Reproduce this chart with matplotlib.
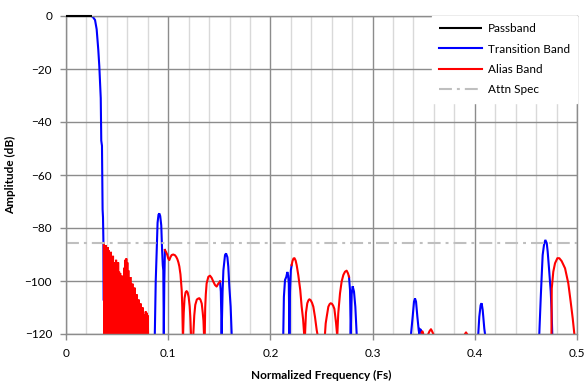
import numpy as np
import matplotlib
matplotlib.use("Agg")
import matplotlib.pyplot as plt
from matplotlib.ticker import MultipleLocator

nan = np.nan

# ---- data ----
passband_f = [0.0, 0.0250]
passband_db = [0.0, 0.0]

transition_f = [
    0.0250, 0.0265, 0.0284, 0.0300, 0.0316, 0.0326, 0.0340, 0.0345, 0.0352, 0.0358, 0.0362, 0.0366, 0.0368, nan,
    0.0869, 0.0878, 0.0888, 0.0896, 0.0905, 0.0913, 0.0922, 0.0932, 0.0940, 0.0947, 0.0952, 0.0957, 0.0962, 0.0968, nan,
    0.1507, 0.1515, 0.1523, 0.1532, 0.1540, 0.1556, 0.1566, 0.1579, 0.1588, 0.1598, 0.1611, 0.1621, nan,
    0.2126, 0.2132, 0.2143, 0.2155, 0.2166, 0.2174, 0.2180, 0.2186, 0.2192, 0.2200, 0.2208, nan,
    0.2769, 0.2779, 0.2786, 0.2795, 0.2805, 0.2818, 0.2831, 0.2844, nan,
    0.3376, 0.3392, 0.3405, 0.3415, 0.3425, 0.3438, 0.3451, 0.3457, 0.3464, 0.3472, 0.3480, nan,
    0.4034, 0.4044, 0.4057, 0.4067, 0.4077, 0.4083, 0.4093, 0.4100, nan,
    0.4631, 0.4645, 0.4655, 0.4664, 0.4677, 0.4690, 0.4704, 0.4713, 0.4726, 0.4743, 0.4752, 0.4758,
]
transition_db = [
    0.0, -0.5, -1.5, -5.0, -12.8, -19.0, -31.0, -47.0, -49.0, -73.0, -76.0, -85.0, -107.0, nan,
    -120.0, -100.0, -88.0, -78.0, -75.0, -74.5, -75.5, -79.0, -88.0, -94.0, -96.0, -120.0, -100.0, -88.3, nan,
    -100.2, -104.0, -120.0, -104.0, -96.0, -90.2, -89.6, -91.0, -94.6, -102.0, -109.7, -120.0, nan,
    -120.0, -106.0, -99.6, -98.5, -96.6, -98.0, -101.0, -120.0, -104.0, -96.0, -94.0, nan,
    -98.4, -103.4, -120.0, -105.0, -102.0, -104.0, -109.7, -120.0, nan,
    -120.0, -113.5, -107.8, -106.6, -107.8, -113.5, -118.5, -120.0, -118.2, -118.4, -119.5, nan,
    -120.0, -113.5, -109.1, -108.4, -110.9, -113.5, -118.0, -120.0, nan,
    -120.0, -106.5, -97.7, -90.2, -86.4, -84.5, -85.7, -88.9, -95.2, -104.0, -112.0, -120.0,
]

alias_noise_f = [
    0.0370, 0.0375, 0.0380, 0.0385, 0.0390, 0.0395, 0.0400, 0.0405, 0.0410, 0.0415,
    0.0420, 0.0425, 0.0430, 0.0435, 0.0440, 0.0445, 0.0450, 0.0455, 0.0460, 0.0465,
    0.0470, 0.0475, 0.0480, 0.0485, 0.0490, 0.0495, 0.0500, 0.0505, 0.0510, 0.0515,
    0.0520, 0.0525, 0.0530, 0.0535, 0.0540, 0.0545, 0.0550, 0.0555, 0.0560, 0.0565,
    0.0570, 0.0575, 0.0580, 0.0585, 0.0590, 0.0595, 0.0600, 0.0605, 0.0610, 0.0615,
    0.0620, 0.0625, 0.0630, 0.0635, 0.0640, 0.0645, 0.0650, 0.0655, 0.0660, 0.0665,
    0.0670, 0.0675, 0.0680, 0.0685, 0.0690, 0.0695, 0.0700, 0.0705, 0.0710, 0.0715,
    0.0720, 0.0725, 0.0730, 0.0735, 0.0740, 0.0745, 0.0750, 0.0755, 0.0760, 0.0765,
    0.0770, 0.0775, 0.0780, 0.0785, 0.0790, 0.0795, 0.0800, 0.0805,
]
alias_noise_db = [
    -85.7, -125, -87.0, -125, -86.5, -125, -88.0, -125, -87.3, -125,
    -88.5, -125, -90.0, -125, -89.0, -125, -92.0, -125, -90.5, -125,
    -94.0, -125, -93.0, -125, -92.0, -125, -94.5, -125, -93.0, -125,
    -96.5, -125, -97.0, -125, -99.5, -125, -98.0, -125, -100.0, -125,
    -95.0, -125, -92.0, -125, -91.5, -125, -93.0, -125, -96.0, -125,
    -100.0, -125, -98.5, -125, -103.0, -125, -101.0, -125, -104.5, -125,
    -102.5, -125, -106.5, -125, -105.0, -125, -108.0, -125, -107.0, -125,
    -109.5, -125, -108.5, -125, -111.0, -125, -110.0, -125, -112.5, -125,
    -114.0, -125, -111.5, -125, -112.0, -125, -113.0, -125,
]

alias_f = [
    0.0968, 0.0978, 0.0990, 0.1000, 0.1011, 0.1022, 0.1034, 0.1050, 0.1067, 0.1080, 0.1090, 0.1100, 0.1109, 0.1120, 0.1132, 0.1138, 0.1143, nan,
    0.1146, 0.1152, 0.1160, 0.1170, 0.1180, 0.1190, 0.1200, 0.1210, 0.1217, 0.1223, nan,
    0.1246, 0.1255, 0.1265, 0.1280, 0.1295, 0.1305, 0.1315, 0.1328, 0.1338, 0.1345, 0.1350, nan,
    0.1358, 0.1362, 0.1368, 0.1376, 0.1393, 0.1409, 0.1425, 0.1441, 0.1458, 0.1474, 0.1490, 0.1507, nan,
    0.2208, 0.2216, 0.2226, 0.2236, 0.2247, 0.2257, 0.2273, 0.2292, 0.2306, 0.2320, 0.2330, nan,
    0.2339, 0.2348, 0.2361, 0.2372, 0.2381, 0.2393, 0.2407, 0.2420, 0.2436, 0.2453, 0.2460, nan,
    0.2534, 0.2541, 0.2551, 0.2567, 0.2580, 0.2590, 0.2602, 0.2614, 0.2626, 0.2642, 0.2652, nan,
    0.2655, 0.2664, 0.2681, 0.2697, 0.2714, 0.2730, 0.2746, 0.2759, 0.2769, nan,
    0.3480, 0.3488, 0.3496, nan,
    0.3545, 0.3556, 0.3565, 0.3571, 0.3580, 0.3594, nan,
    0.3904, 0.3914, 0.3924, nan,
    0.4750, 0.4753, 0.4768, 0.4785, 0.4808, 0.4827, 0.4850, 0.4883, 0.4915, 0.4938, 0.4958, 0.4974,
]
alias_db = [
    -88.3, -89.0, -90.0, -91.5, -92.1, -91.0, -90.2, -90.0, -90.3, -91.0, -91.8, -93.0, -94.5, -97.5, -103.4, -110.0, -120.0, nan,
    -120.0, -112.0, -106.5, -104.3, -103.8, -104.3, -106.0, -109.5, -114.0, -120.0, nan,
    -120.0, -113.0, -109.0, -107.0, -106.6, -106.5, -107.0, -108.5, -112.0, -115.0, -120.0, nan,
    -120.0, -110.0, -105.0, -100.9, -98.4, -98.0, -98.8, -100.2, -101.5, -102.1, -101.0, -100.2, nan,
    -94.0, -92.5, -91.5, -91.4, -92.3, -94.0, -97.8, -103.4, -109.7, -114.5, -120.0, nan,
    -120.0, -112.0, -108.4, -107.3, -106.9, -107.2, -108.2, -109.7, -113.5, -118.5, -120.0, nan,
    -120.0, -116.0, -113.5, -109.7, -108.7, -108.4, -108.6, -109.3, -110.5, -115.7, -120.0, nan,
    -120.0, -112.2, -104.7, -100.2, -97.7, -96.5, -96.1, -97.1, -98.4, nan,
    -119.5, -119.0, -120.0, nan,
    -120.0, -119.0, -118.5, -118.2, -118.8, -120.0, nan,
    -120.0, -119.4, -120.0, nan,
    -120.0, -102.8, -96.5, -93.3, -91.4, -91.4, -92.5, -95.2, -100.9, -107.8, -114.1, -120.0,
]

attn_spec_db = -85.6

x_ticks = [0, 0.1, 0.2, 0.3, 0.4, 0.5]
x_ticklabels = ["0", "0.1", "0.2", "0.3", "0.4", "0.5"]
y_ticks = [0, -20, -40, -60, -80, -100, -120]

# ---- style ----
plt.rcParams['font.family'] = ['Lato', 'DejaVu Sans']
major_grid = '#8C8C8C'
minor_grid = '#D9D9D9'

fig = plt.figure(figsize=(5.87, 3.87), dpi=100)
ax = fig.add_axes([66/587, 1-334/387, (577-66)/587, (334-16)/387])

ax.set_xlim(0, 0.5)
ax.set_ylim(-120, 0)
ax.set_xticks(x_ticks)
ax.set_xticklabels(x_ticklabels)
ax.set_yticks(y_ticks)
ax.xaxis.set_minor_locator(MultipleLocator(0.02))
ax.grid(which='major', color=major_grid, lw=1.0)
ax.grid(which='minor', axis='x', color=minor_grid, lw=1.0)
ax.set_axisbelow(True)
ax.tick_params(which='major', length=4, width=1, color=major_grid, labelsize=8.5, pad=6, labelcolor='#000000')
ax.tick_params(which='minor', length=0)
for s in ax.spines.values():
    s.set_color(major_grid)
    s.set_linewidth(1.0)

lw = 1.5
ax.plot(passband_f, passband_db, color='black', lw=lw, label='Passband', solid_capstyle='butt', clip_on=False, zorder=3)
ax.plot(transition_f, transition_db, color='#0000FF', lw=lw, label='Transition Band', solid_joinstyle='miter')
ax.plot(alias_noise_f, alias_noise_db, color='#FF0000', lw=lw, solid_joinstyle='miter')
ax.plot(alias_f, alias_db, color='#FF0000', lw=lw, label='Alias Band')
ax.axhline(attn_spec_db, color='#BFBFBF', lw=lw, linestyle=(0, (6.2, 2.4, 1.4, 2.4)), label='Attn Spec')

ax.set_xlabel('Normalized Frequency (Fs)', fontsize=8.5, fontweight='bold', labelpad=8)
ax.set_ylabel('Amplitude (dB)', fontsize=8.5, fontweight='bold', labelpad=6)

handles, labels = ax.get_legend_handles_labels()
leg = ax.legend(handles, labels, loc='upper right', fontsize=8.5, frameon=True, fancybox=False,
                handlelength=3.6, borderaxespad=0.0, labelspacing=0.8, handletextpad=0.5,
                borderpad=0.6)
leg.get_frame().set_facecolor('white')
leg.get_frame().set_edgecolor('white')
leg.get_frame().set_alpha(1.0)

fig.savefig('out.png', dpi=100)
